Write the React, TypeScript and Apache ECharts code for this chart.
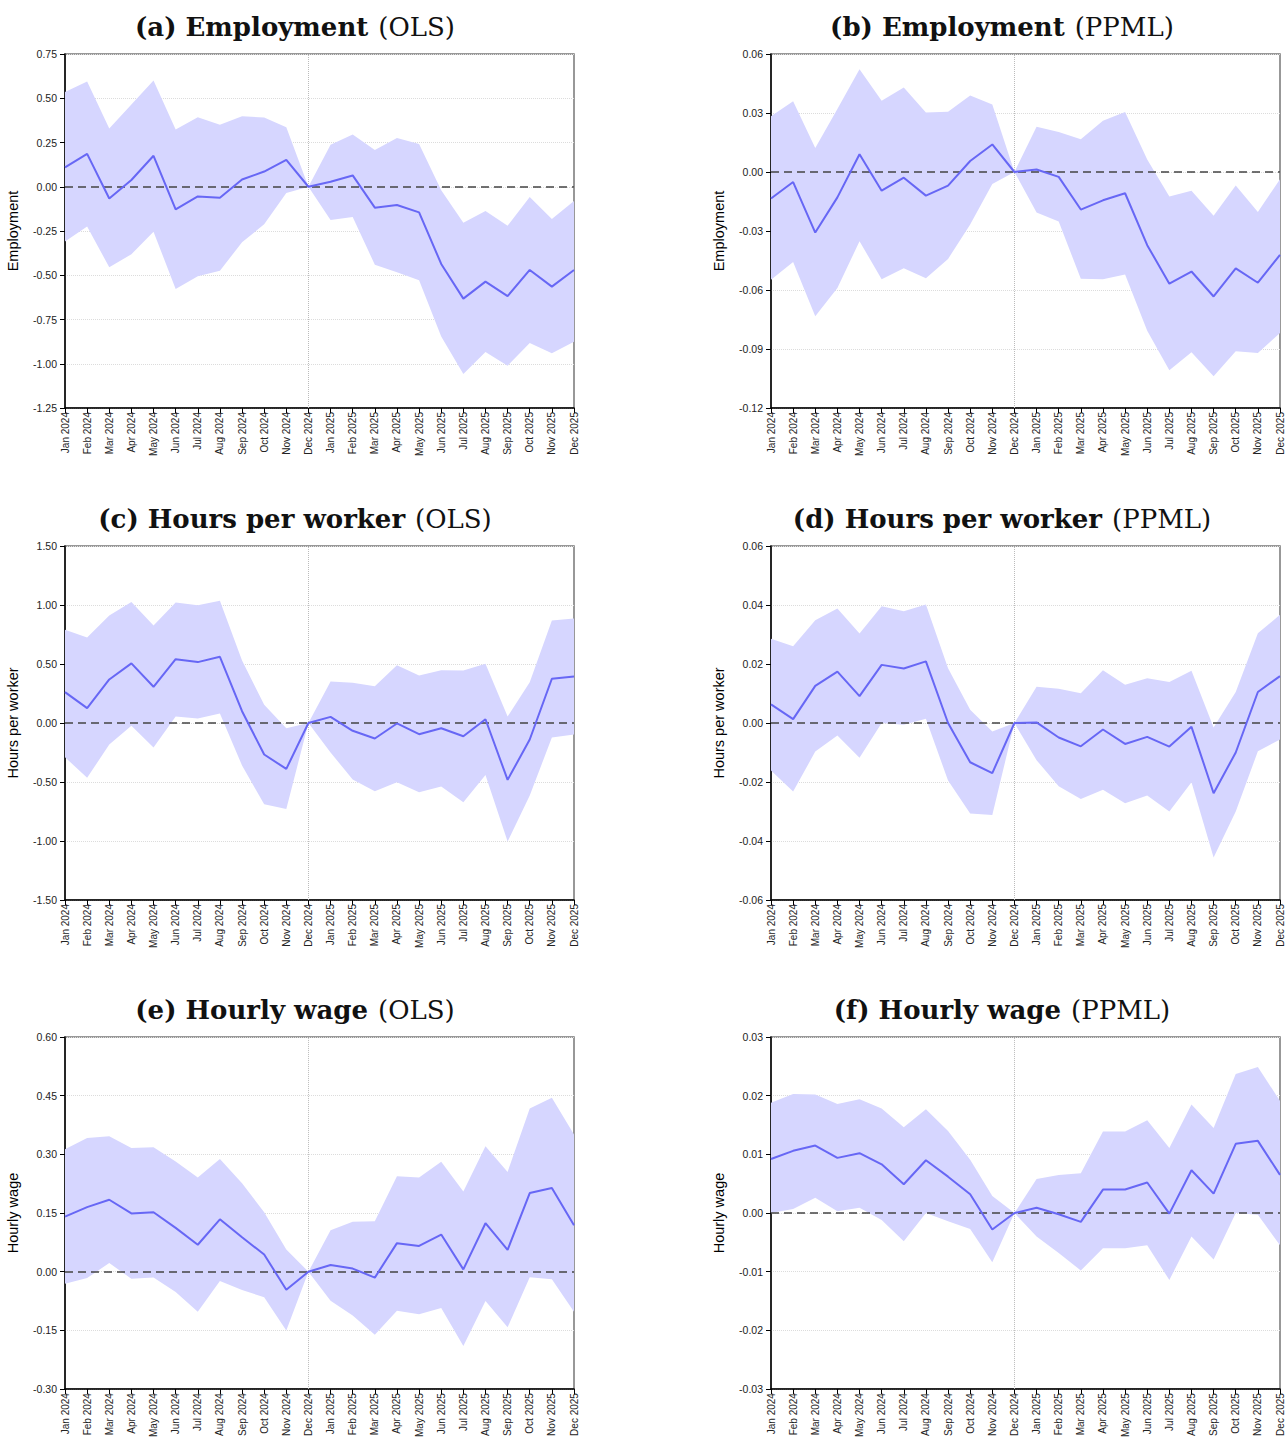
import React, { useEffect, useRef } from "react";
import * as echarts from "echarts";

const months = [
  "Jan 2024", "Feb 2024", "Mar 2024", "Apr 2024", "May 2024", "Jun 2024",
  "Jul 2024", "Aug 2024", "Sep 2024", "Oct 2024", "Nov 2024", "Dec 2024",
  "Jan 2025", "Feb 2025", "Mar 2025", "Apr 2025", "May 2025", "Jun 2025",
  "Jul 2025", "Aug 2025", "Sep 2025", "Oct 2025", "Nov 2025", "Dec 2025",
];

// (a) Employment OLS
const empOlsCoef = [0.11, 0.186, -0.066, 0.038, 0.175, -0.128, -0.055, -0.062, 0.041, 0.086, 0.152, 0, 0.028, 0.064, -0.118, -0.103, -0.145, -0.436, -0.632, -0.536, -0.618, -0.47, -0.564, -0.47];
const empOlsUpper = [0.536, 0.594, 0.329, 0.465, 0.6, 0.323, 0.393, 0.35, 0.398, 0.391, 0.336, 0, 0.237, 0.295, 0.207, 0.276, 0.242, -0.02, -0.203, -0.137, -0.22, -0.058, -0.182, -0.081];
const empOlsLower = [-0.31, -0.224, -0.455, -0.382, -0.254, -0.577, -0.506, -0.474, -0.314, -0.212, -0.036, 0, -0.188, -0.171, -0.44, -0.483, -0.528, -0.846, -1.058, -0.934, -1.011, -0.883, -0.94, -0.876];

// (b) Employment PPML
const empPpmlCoef = [-0.0135, -0.0051, -0.0308, -0.0129, 0.009, -0.0095, -0.0029, -0.012, -0.0069, 0.0056, 0.014, 0, 0.0013, -0.0025, -0.0191, -0.0144, -0.0108, -0.0372, -0.0568, -0.0506, -0.0633, -0.049, -0.0563, -0.0421];
const empPpmlUpper = [0.0284, 0.036, 0.0122, 0.032, 0.0523, 0.0362, 0.043, 0.0303, 0.0306, 0.0389, 0.0343, 0, 0.023, 0.0203, 0.0166, 0.026, 0.0305, 0.0063, -0.0125, -0.0095, -0.0222, -0.0069, -0.0203, -0.0037];
const empPpmlLower = [-0.0548, -0.0458, -0.0734, -0.059, -0.0352, -0.0545, -0.049, -0.054, -0.0442, -0.0267, -0.0061, 0, -0.0206, -0.0252, -0.0543, -0.0545, -0.0521, -0.0807, -0.1008, -0.0917, -0.1039, -0.0912, -0.092, -0.0819];

// (c) Hours per worker OLS
const hrsOlsCoef = [0.262, 0.126, 0.369, 0.505, 0.307, 0.541, 0.516, 0.561, 0.1, -0.267, -0.389, 0, 0.052, -0.066, -0.131, -0.004, -0.095, -0.044, -0.112, 0.032, -0.482, -0.14, 0.375, 0.394];
const hrsOlsUpper = [0.79, 0.725, 0.912, 1.025, 0.827, 1.022, 0.997, 1.036, 0.53, 0.154, -0.044, 0, 0.352, 0.341, 0.312, 0.49, 0.403, 0.448, 0.445, 0.502, 0.055, 0.346, 0.869, 0.886];
const hrsOlsLower = [-0.29, -0.465, -0.182, -0.024, -0.208, 0.055, 0.038, 0.08, -0.36, -0.688, -0.728, 0, -0.25, -0.479, -0.578, -0.502, -0.587, -0.539, -0.672, -0.44, -1.005, -0.615, -0.123, -0.098];

// (d) Hours per worker PPML
const hrsPpmlCoef = [0.0063, 0.0013, 0.0126, 0.0174, 0.0091, 0.0197, 0.0185, 0.0209, 0, -0.0133, -0.017, 0, 0.0002, -0.0049, -0.0079, -0.0022, -0.0071, -0.0047, -0.008, -0.0013, -0.0238, -0.01, 0.0105, 0.0159];
const hrsPpmlUpper = [0.0286, 0.026, 0.0348, 0.0388, 0.0303, 0.0396, 0.0379, 0.0402, 0.0186, 0.0045, -0.0029, 0, 0.0123, 0.0116, 0.0101, 0.0179, 0.013, 0.0152, 0.0139, 0.0177, -0.0015, 0.0105, 0.0304, 0.0367];
const hrsPpmlLower = [-0.0161, -0.0232, -0.0097, -0.0042, -0.0118, 0, -0.0006, 0.0014, -0.0195, -0.0307, -0.0312, 0, -0.0126, -0.0214, -0.0258, -0.0226, -0.0272, -0.0246, -0.03, -0.0201, -0.0456, -0.03, -0.0096, -0.0056];

// (e) Hourly wage OLS
const wageOlsCoef = [0.141, 0.165, 0.184, 0.149, 0.152, 0.112, 0.069, 0.134, 0.088, 0.044, -0.046, 0, 0.017, 0.008, -0.015, 0.073, 0.066, 0.095, 0.006, 0.124, 0.056, 0.201, 0.214, 0.119];
const wageOlsUpper = [0.313, 0.342, 0.346, 0.316, 0.318, 0.282, 0.241, 0.288, 0.226, 0.152, 0.057, 0, 0.106, 0.128, 0.129, 0.244, 0.241, 0.281, 0.205, 0.321, 0.255, 0.417, 0.445, 0.351];
const wageOlsLower = [-0.031, -0.016, 0.022, -0.018, -0.015, -0.052, -0.102, -0.024, -0.047, -0.065, -0.15, 0, -0.074, -0.112, -0.161, -0.1, -0.109, -0.093, -0.19, -0.075, -0.142, -0.014, -0.019, -0.102];

// (f) Hourly wage PPML
const wagePpmlCoef = [0.0092, 0.0106, 0.0115, 0.0094, 0.0102, 0.0083, 0.0049, 0.009, 0.0062, 0.0032, -0.0028, 0, 0.0009, -0.0002, -0.0015, 0.004, 0.004, 0.0052, -0.0001, 0.0073, 0.0033, 0.0118, 0.0123, 0.0065];
const wagePpmlUpper = [0.0188, 0.0203, 0.0202, 0.0186, 0.0194, 0.0178, 0.0146, 0.0177, 0.014, 0.0091, 0.0029, 0, 0.0058, 0.0065, 0.0068, 0.0139, 0.0139, 0.0158, 0.0111, 0.0185, 0.0145, 0.0237, 0.0249, 0.0191];
const wagePpmlLower = [0, 0.0007, 0.0026, 0.0003, 0.0009, -0.0012, -0.0048, 0, -0.0014, -0.0027, -0.0084, 0, -0.004, -0.0068, -0.0098, -0.006, -0.006, -0.0055, -0.0114, -0.004, -0.0079, 0, -0.0003, -0.0055];

const panelLabels = ["(a)", "(b)", "(c)", "(d)", "(e)", "(f)"];
const panelVars = ["Employment", "Employment", "Hours per worker", "Hours per worker", "Hourly wage", "Hourly wage"];
const panelMethods = ["(OLS)", "(PPML)", "(OLS)", "(PPML)", "(OLS)", "(PPML)"];
const yMins = [-1.25, -0.12, -1.5, -0.06, -0.3, -0.03];
const yMaxs = [0.75, 0.06, 1.5, 0.06, 0.6, 0.03];
const yIntervals = [0.25, 0.03, 0.5, 0.02, 0.15, 0.01];
const coefs = [empOlsCoef, empPpmlCoef, hrsOlsCoef, hrsPpmlCoef, wageOlsCoef, wagePpmlCoef];
const uppers = [empOlsUpper, empPpmlUpper, hrsOlsUpper, hrsPpmlUpper, wageOlsUpper, wagePpmlUpper];
const lowers = [empOlsLower, empPpmlLower, hrsOlsLower, hrsPpmlLower, wageOlsLower, wagePpmlLower];

const colLefts = [65, 771];
const colWidths = [509, 510];
const colCenters = [290, 997];
const rowTops = [54, 546, 1037];
const rowTitleY = [9, 501, 992];
const plotHeight = 354;

const LINE_COLOR = "#6767F5";
const BAND_COLOR = "#D6D6FF";
const SANS = "'Liberation Sans', Arial, sans-serif";
const SERIF = "'DejaVu Serif', 'Liberation Serif', serif";

function buildOption() {
  const grid: any[] = [];
  const xAxis: any[] = [];
  const yAxis: any[] = [];
  const series: any[] = [];
  const title: any[] = [];

  for (let i = 0; i < 6; i++) {
    const col = i % 2;
    const row = Math.floor(i / 2);
    grid.push({
      left: colLefts[col],
      top: rowTops[row],
      width: colWidths[col],
      height: plotHeight,
      show: true,
      borderColor: "#777",
      borderWidth: 1.5,
      backgroundColor: "transparent",
    });
    title.push({
      text: `{b|${panelLabels[i]} ${panelVars[i]}}  {n|${panelMethods[i]}}`,
      left: colCenters[col],
      top: rowTitleY[row],
      textAlign: "center",
      textStyle: {
        rich: {
          b: { fontFamily: SERIF, fontWeight: "bold", fontSize: 26, color: "#111" },
          n: { fontFamily: SERIF, fontWeight: "normal", fontSize: 26, color: "#111" },
        },
      },
    });
    xAxis.push({
      type: "category",
      gridIndex: i,
      data: months,
      boundaryGap: false,
      axisLine: { show: true, onZero: false, lineStyle: { color: "#000", width: 1.5 } },
      axisTick: { show: true, length: 5, lineStyle: { color: "#000" } },
      axisLabel: {
        rotate: 90,
        interval: 0,
        fontSize: 10,
        fontFamily: SANS,
        color: "#222",
        margin: 4,
      },
      splitLine: { show: false },
    });
    yAxis.push({
      type: "value",
      gridIndex: i,
      min: yMins[i],
      max: yMaxs[i],
      interval: yIntervals[i],
      name: panelVars[i],
      nameLocation: "middle",
      nameGap: 45,
      nameTextStyle: { fontFamily: SANS, fontSize: 14.5, color: "#000" },
      axisLine: { show: true, onZero: false, lineStyle: { color: "#000", width: 1.5 } },
      axisTick: { show: true, length: 5, lineStyle: { color: "#000" } },
      axisLabel: {
        fontSize: 10.5,
        fontFamily: SANS,
        color: "#222",
        margin: 8,
        formatter: (v: number) => v.toFixed(2),
      },
      splitLine: { show: true, lineStyle: { color: "#dcdcdc", type: "dotted", width: 1 } },
    });

    const lo = lowers[i];
    const up = uppers[i];
    const stackName = "ci" + i;
    series.push({
      type: "line",
      xAxisIndex: i,
      yAxisIndex: i,
      data: lo,
      stack: stackName,
      stackStrategy: "all",
      symbol: "none",
      lineStyle: { opacity: 0 },
      silent: true,
    });
    series.push({
      type: "line",
      xAxisIndex: i,
      yAxisIndex: i,
      data: up.map((u, k) => u - lo[k]),
      stack: stackName,
      stackStrategy: "all",
      symbol: "none",
      lineStyle: { opacity: 0 },
      areaStyle: { color: BAND_COLOR, opacity: 1 },
      silent: true,
    });
    series.push({
      type: "line",
      xAxisIndex: i,
      yAxisIndex: i,
      data: coefs[i],
      symbol: "none",
      lineStyle: { color: LINE_COLOR, width: 2 },
      z: 5,
      markLine: {
        silent: true,
        symbol: ["none", "none"],
        label: { show: false },
        data: [
          { xAxis: "Dec 2024", lineStyle: { color: "#bbb", type: "dotted", width: 1 } },
          { yAxis: 0, lineStyle: { color: "#444", type: [8, 5], width: 1.5 } },
        ],
      },
    });
  }

  return {
    animation: false,
    backgroundColor: "#fff",
    title,
    grid,
    xAxis,
    yAxis,
    series,
  };
}

export default function App() {
  const ref = useRef<HTMLDivElement>(null);
  useEffect(() => {
    if (!ref.current) return;
    const chart = echarts.init(ref.current, undefined, { renderer: "svg" });
    chart.setOption(buildOption() as any);
    return () => chart.dispose();
  }, []);
  return (
    <div
      ref={ref}
      style={{ position: "absolute", left: 0, top: 0, width: 1285, height: 1440 }}
    />
  );
}
